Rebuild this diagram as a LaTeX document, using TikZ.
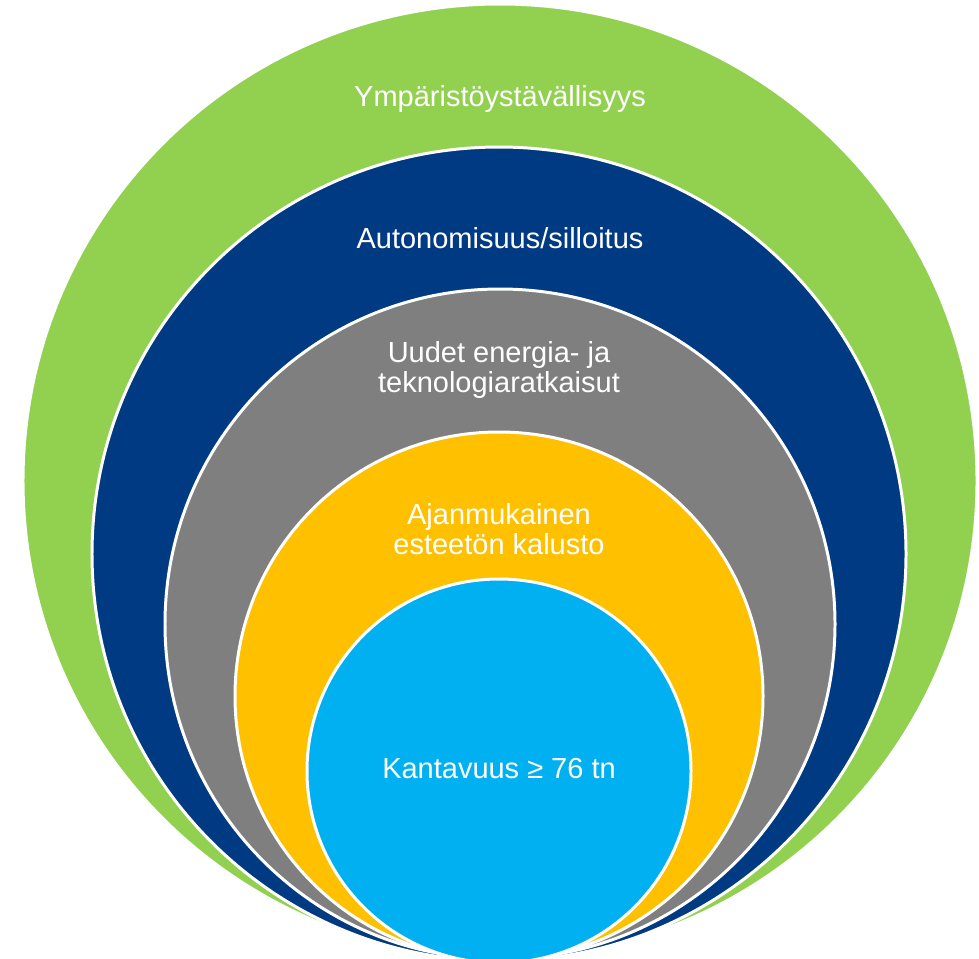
\documentclass[tikz,border=0pt]{standalone}
\usepackage{fontspec}
\setmainfont{Liberation Sans}
\usepackage{tikz}
\usepackage{xcolor}
\definecolor{ymparisto}{HTML}{92D050}
\definecolor{autonomia}{HTML}{003A82}
\definecolor{teknologia}{HTML}{7F7F7F}
\definecolor{kalusto}{HTML}{FFC000}
\definecolor{kantavuus}{HTML}{00B0F0}

\begin{document}
\begin{tikzpicture}[x=0.02cm, y=-0.02cm,
  ring/.style={draw=white, line width=1.7pt},
  lbl/.style={text=white, font=\fontsize{16.5}{17}\selectfont, align=center, anchor=base}]
\useasboundingbox (0,0) rectangle (979,958);

\filldraw[ymparisto, ring] (500,481) circle (477);

\filldraw[autonomia, ring] (499,554) circle (407);

\filldraw[teknologia, ring] (500,624) circle (335);

\filldraw[kalusto, ring] (499,696) circle (264);

\filldraw[kantavuus, ring] (499,771) circle (192);

\node[lbl] (ymparisto) at (500,106) {Ympäristöystävällisyys};
\node[lbl] (autonomia) at (500,248) {Autonomisuus/silloitus};
\node[lbl] (teknologia) at (499,392) {Uudet energia- ja\\teknologiaratkaisut};
\node[lbl] (kalusto) at (499,554) {Ajanmukainen\\esteetön kalusto};
\node[lbl] (kantavuus) at (499,778) {Kantavuus ≥ 76 tn};
\end{tikzpicture}
\end{document}
